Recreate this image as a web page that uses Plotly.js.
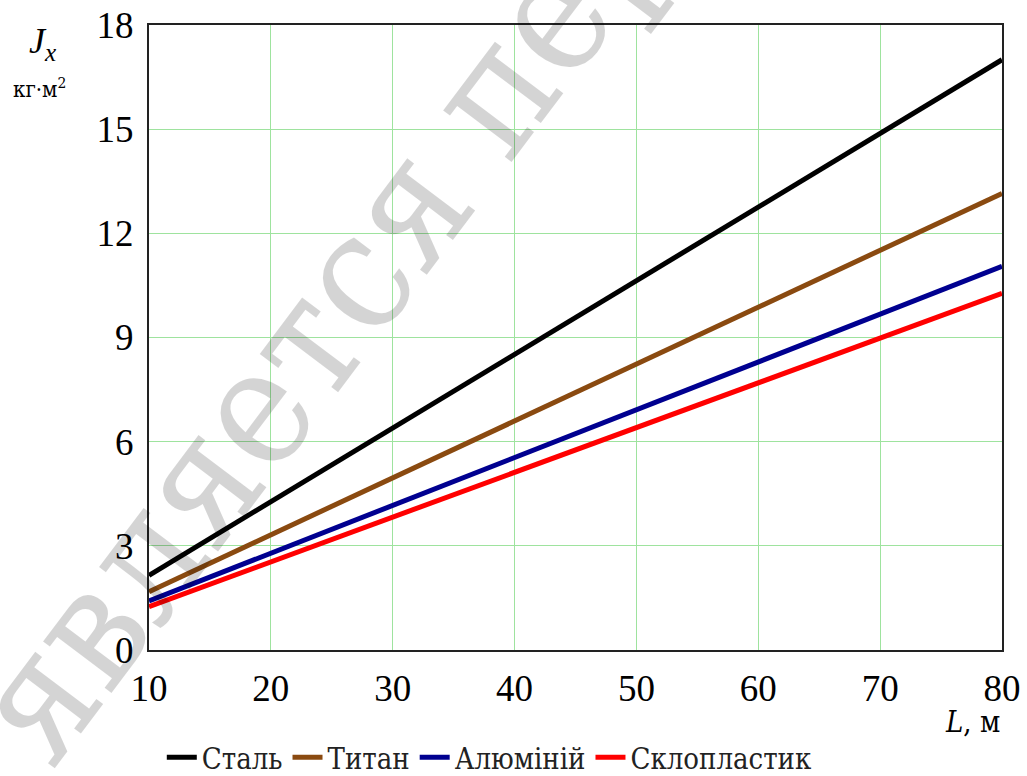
<!DOCTYPE html>
<html>
<head>
<meta charset="utf-8">
<script src="https://cdn.plot.ly/plotly-3.0.1.min.js"></script>
<style>html,body{margin:0;padding:0;background:#fff;}#chart{width:1027px;height:776px;}</style>
</head>
<body>
<div id="chart"></div>
<script>
// Data
const L = [10, 20, 30, 40, 50, 60, 70, 80];
const steel = [2.15, 4.27, 6.40, 8.52, 10.64, 12.76, 14.88, 17.00];
const titan = [1.68, 3.32, 4.96, 6.58, 8.22, 9.87, 11.51, 13.15];
const alum  = [1.41, 2.79, 4.16, 5.52, 6.92, 8.29, 9.67, 11.05];
const glass = [1.25, 2.54, 3.83, 5.11, 6.41, 7.70, 8.99, 10.27];
const seriesNames = ["Сталь", "Титан", "Алюміній", "Склопластик"];
const xTicks = [10, 20, 30, 40, 50, 60, 70, 80];
const yTicks = [0, 3, 6, 9, 12, 15, 18];
const watermarkText = "является пер";

const FONT = "Liberation Serif";
const CYR = "DejaVu Serif Condensed";
const colors = ["#000000", "#8a4a10", "#000090", "#ff0000"];
const ys = [steel, titan, alum, glass];

const traces = ys.map((y, i) => ({
  x: L, y: y, type: "scatter", mode: "lines", name: seriesNames[i],
  line: {color: colors[i], width: 5}
}));

const layout = {
  width: 1027, height: 776,
  paper_bgcolor: "#ffffff", plot_bgcolor: "#ffffff",
  margin: {l: 149, r: 25, t: 25, b: 126, autoexpand: false},
  font: {family: FONT, color: "#000", size: 36},
  showlegend: true,
  legend: {
    orientation: "h", x: 0.015, xanchor: "left", y: -0.172, yanchor: "middle",
    font: {family: CYR, size: 29, color: "#222"},
    itemwidth: 30, tracegroupgap: 0, bgcolor: "rgba(0,0,0,0)"
  },
  xaxis: {
    range: [10, 80], tickvals: xTicks, ticktext: xTicks.map(String),
    showgrid: true, gridcolor: "#9ee39e", gridwidth: 1,
    zeroline: false, showline: true, linecolor: "#222", linewidth: 2, mirror: true,
    ticks: "", tickfont: {family: FONT, size: 37, color: "#000"},
    ticklabelstandoff: 5
  },
  yaxis: {
    range: [0, 18], tickvals: yTicks, ticktext: yTicks.map(String),
    showgrid: true, gridcolor: "#9ee39e", gridwidth: 1,
    zeroline: false, showline: true, linecolor: "#222", linewidth: 2, mirror: true,
    ticks: "", tickfont: {family: FONT, size: 37, color: "#000"},
    ticklabelstandoff: 6
  },
  annotations: [
    {text: "<i>J</i><sub><i>x</i></sub>", xref: "paper", yref: "paper",
     x: -0.125, y: 1.01, xanchor: "center", yanchor: "top", showarrow: false,
     font: {family: FONT, size: 36, color: "#000"}},
    {text: "кг·м<sup>2</sup>", xref: "paper", yref: "paper",
     x: -0.128, y: 0.925, xanchor: "center", yanchor: "top", showarrow: false,
     font: {family: CYR, size: 22, color: "#000"}},
    {text: "<i>L</i>, м", xref: "paper", yref: "paper",
     x: 1.0, y: -0.115, xanchor: "right", yanchor: "middle", showarrow: false,
     font: {family: CYR, size: 29, color: "#000"}},
    {text: watermarkText, xref: "paper", yref: "paper",
     x: 0.2, y: 0.525, xanchor: "center", yanchor: "middle", showarrow: false,
     textangle: -53, font: {family: CYR, size: 165, color: "rgba(0,0,0,0.17)"}}
  ]
};

Plotly.newPlot("chart", traces, layout, {displayModeBar: false, staticPlot: true});
</script>
</body>
</html>
